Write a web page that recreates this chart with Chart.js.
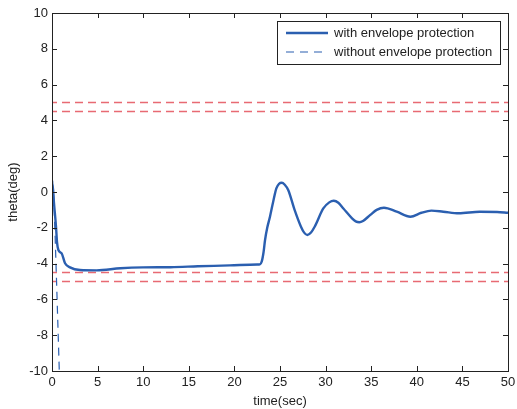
<!DOCTYPE html>
<html>
<head>
<meta charset="utf-8">
<script src="https://cdn.jsdelivr.net/npm/chart.js@4/dist/chart.umd.min.js"></script>
<style>
  html, body { margin: 0; padding: 0; background: #fff; }
  canvas { display: block; }
</style>
</head>
<body>
<canvas id="myChart" width="517" height="409"></canvas>
<script>
// pitch response with envelope protection
var timeWith = [0, 0.07, 0.22, 0.44, 0.55, 0.7, 1.06, 1.43, 1.97, 3.07, 4.9, 7.5, 10, 13, 16, 19.5, 22.5,
  22.8, 23.0, 23.2, 23.36, 23.6, 23.9, 24.27, 24.6, 24.9, 25.2, 25.5, 25.9, 26.6, 27.3, 27.65, 28.0, 28.4,
  28.8, 29.75, 30.4, 30.9, 31.4, 31.95, 32.9, 33.3, 33.7, 34.1,
  34.9, 35.6, 36.4, 37.8, 39.3, 40.5, 41.6, 42.9, 44.6, 46.9, 48.8, 50];
var thetaWith = [0.1, 0.39, -0.63, -1.94, -2.8, -3.24, -3.43, -3.98, -4.21, -4.36, -4.38, -4.26, -4.21, -4.2, -4.15, -4.1, -4.05,
  -4.04, -3.88, -3.35, -2.68, -2.0, -1.38, -0.5, 0.2, 0.46, 0.52, 0.42, 0.11, -1.0, -1.94, -2.27, -2.4, -2.26,
  -1.94, -0.92, -0.58, -0.49, -0.6, -0.92, -1.47, -1.64, -1.69, -1.62,
  -1.28, -1.0, -0.88, -1.1, -1.38, -1.16, -1.04, -1.1, -1.19, -1.1, -1.12, -1.16];

// pitch response without protection (leaves the plot quickly)
var timeWithout = [0, 0.1, 0.22, 0.35, 0.5, 0.65, 0.8, 0.9];
var thetaWithout = [0.1, 0.39, -0.63, -2.6, -5.0, -7.5, -10, -11.5];

// envelope limits
var limitLevels = [5, 4.5, -4.5, -5];
var timeRange = [0, 50];

var xTicks = [0, 5, 10, 15, 20, 25, 30, 35, 40, 45, 50];
var yTicks = [-10, -8, -6, -4, -2, 0, 2, 4, 6, 8, 10];

var blue = '#2b5fb0';
var red = 'rgba(228, 80, 90, 0.85)';
var axisColor = '#222';
var fontFamily = '"Liberation Sans", Arial, Helvetica, sans-serif';
var fontSize = 13;

function pairs(xs, ys) {
  return xs.map(function (x, i) { return { x: x, y: ys[i] }; });
}

var datasets = [{
  label: 'with envelope protection',
  data: pairs(timeWith, thetaWith),
  borderColor: blue,
  borderWidth: 2.4,
  pointRadius: 0,
  cubicInterpolationMode: 'monotone',
  fill: false
}, {
  label: 'without envelope protection',
  data: pairs(timeWithout, thetaWithout),
  borderColor: blue,
  borderWidth: 1.2,
  borderDash: [8, 6],
  pointRadius: 0,
  fill: false
}];

limitLevels.forEach(function (lvl) {
  datasets.push({
    label: 'limit ' + lvl,
    data: pairs(timeRange, [lvl, lvl]),
    borderColor: red,
    borderWidth: 1.4,
    borderDash: [8, 5],
    borderDashOffset: 3,
    pointRadius: 0,
    fill: false
  });
});

// inward ticks on all four sides of the box
var boxTicks = {
  id: 'boxTicks',
  afterDraw: function (chart) {
    var c = chart.ctx, a = chart.chartArea;
    var xs = chart.scales.x, ys = chart.scales.y;
    var len = 5;
    c.save();
    c.strokeStyle = axisColor;
    c.lineWidth = 1;
    c.beginPath();
    xTicks.forEach(function (v) {
      var px = Math.round(xs.getPixelForValue(v)) + 0.5;
      c.moveTo(px, a.bottom); c.lineTo(px, a.bottom - len);
      c.moveTo(px, a.top); c.lineTo(px, a.top + len);
    });
    yTicks.forEach(function (v) {
      var py = Math.round(ys.getPixelForValue(v)) + 0.5;
      c.moveTo(a.left, py); c.lineTo(a.left + len, py);
      c.moveTo(a.right, py); c.lineTo(a.right - len, py);
    });
    c.stroke();
    c.strokeRect(Math.round(a.left) + 0.5, Math.round(a.top) + 0.5,
      Math.round(a.right - a.left), Math.round(a.bottom - a.top));
    c.restore();
  }
};

// boxed legend inside the plot, top right
var boxLegend = {
  id: 'boxLegend',
  afterDraw: function (chart) {
    var c = chart.ctx;
    var x0 = 277.5, y0 = 21.5, w = 223, h = 43;
    c.save();
    c.fillStyle = '#fff';
    c.fillRect(x0, y0, w, h);
    c.strokeStyle = axisColor;
    c.lineWidth = 1;
    c.strokeRect(x0, y0, w, h);
    c.font = fontSize + 'px ' + fontFamily;
    c.textBaseline = 'middle';
    [0, 1].forEach(function (i) {
      var ds = chart.data.datasets[i];
      var ly = i === 0 ? 33 : 52;
      c.strokeStyle = ds.borderColor;
      c.lineWidth = i === 0 ? 2.4 : 1.2;
      c.setLineDash(ds.borderDash || []);
      c.beginPath();
      c.moveTo(286, ly); c.lineTo(328, ly);
      c.stroke();
      c.setLineDash([]);
      c.fillStyle = '#222';
      c.fillText(ds.label, 334, ly + 0.5);
    });
    c.restore();
  }
};

function noEdgePadding(s) {
  s.paddingLeft = 0; s.paddingRight = 0;
  s.paddingTop = 0; s.paddingBottom = 0;
}

var ctx = document.getElementById('myChart').getContext('2d');
var myChart = new Chart(ctx, {
  type: 'line',
  data: { datasets: datasets },
  options: {
    responsive: false,
    animation: false,
    layout: { padding: { top: 13, right: 9, left: 0, bottom: 0 } },
    plugins: { legend: { display: false }, tooltip: { enabled: false } },
    scales: {
      x: {
        type: 'linear',
        min: 0, max: 50,
        afterBuildTicks: function (s) { s.ticks = xTicks.map(function (v) { return { value: v }; }); },
        afterFit: function (s) { s.height = 38; noEdgePadding(s); },
        grid: { display: false, drawTicks: false },
        border: { display: false },
        ticks: { color: '#222', padding: 4, font: { family: fontFamily, size: fontSize } },
        title: { display: true, text: 'time(sec)', color: '#222', padding: { top: 1, bottom: 0 }, font: { family: fontFamily, size: fontSize } }
      },
      y: {
        type: 'linear',
        min: -10, max: 10,
        afterBuildTicks: function (s) { s.ticks = yTicks.map(function (v) { return { value: v }; }); },
        afterFit: function (s) { s.width = 52; noEdgePadding(s); },
        grid: { display: false, drawTicks: false },
        border: { display: false },
        ticks: { color: '#222', padding: 4, font: { family: fontFamily, size: fontSize } },
        title: { display: true, text: 'theta(deg)', color: '#222', padding: { top: 6, bottom: 0 }, font: { family: fontFamily, size: fontSize } }
      }
    }
  },
  plugins: [boxTicks, boxLegend]
});
</script>
</body>
</html>
